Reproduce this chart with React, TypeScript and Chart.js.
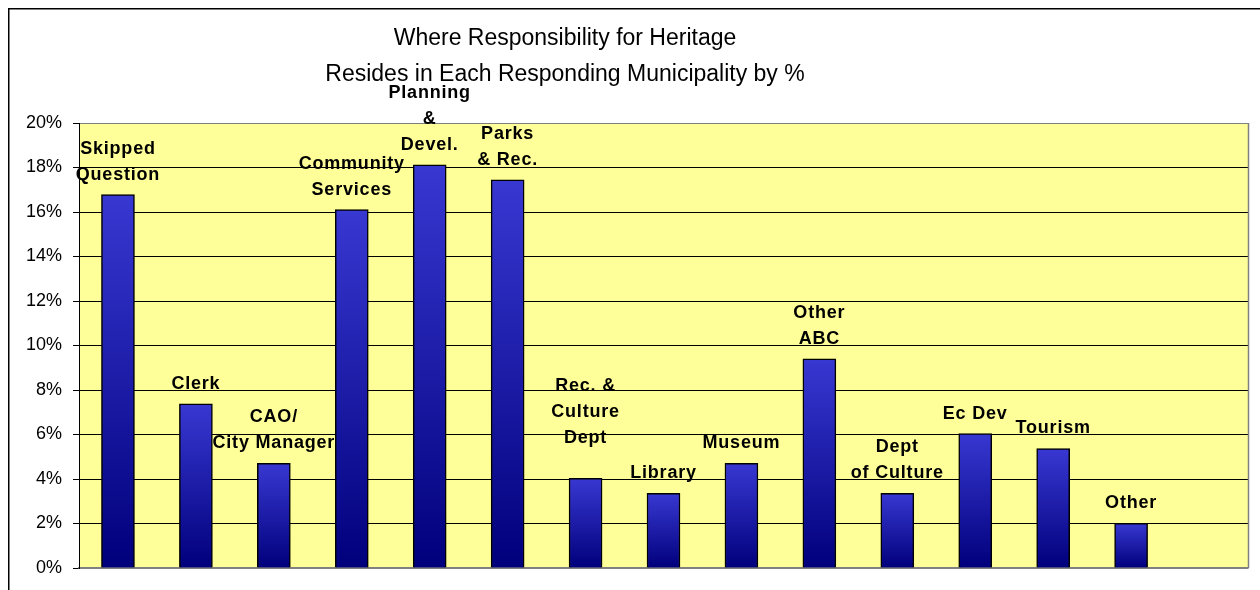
import React, { useEffect, useRef } from "react";
import { Chart, registerables } from "chart.js";

Chart.register(...registerables);

const titleLines = [
  "Where Responsibility for Heritage",
  "Resides in Each Responding Municipality by %",
];

const categories: string[][] = [
  ["Skipped", "Question"],
  ["Clerk"],
  ["CAO/", "City Manager"],
  ["Community", "Services"],
  ["Planning", "&", "Devel."],
  ["Parks", "& Rec."],
  ["Rec. &", "Culture", "Dept", ""],
  ["Library"],
  ["Museum"],
  ["Other", "ABC"],
  ["Dept", "of Culture"],
  ["Ec Dev"],
  ["Tourism"],
  ["Other"],
  [""],
];

const values: (number | null)[] = [
  16.78, 7.38, 4.7, 16.11, 18.12, 17.45, 4.03, 3.36, 4.7, 9.4, 3.36, 6.04, 5.37, 2.01, null,
];

const yTicks = [0, 2, 4, 6, 8, 10, 12, 14, 16, 18, 20];

const FONT = '"Liberation Sans", Arial, sans-serif';

const decorPlugin = {
  id: "decor",
  beforeDraw(chart: any) {
    const { ctx, chartArea: a, width, height } = chart;
    ctx.save();
    ctx.fillStyle = "#ffffff";
    ctx.fillRect(0, 0, width, height);
    ctx.fillStyle = "#FFFF99";
    ctx.fillRect(a.left, a.top, a.right - a.left, a.bottom - a.top);
    ctx.restore();
  },
  afterDraw(chart: any) {
    const { ctx, chartArea: a, width, height } = chart;
    ctx.save();
    // plot right border
    ctx.strokeStyle = "#808080";
    ctx.lineWidth = 1.5;
    ctx.beginPath();
    ctx.moveTo(Math.round(a.right) + 0.5, a.top);
    ctx.lineTo(Math.round(a.right) + 0.5, a.bottom);
    ctx.stroke();
    // outer chart border
    ctx.strokeStyle = "#000000";
    ctx.lineWidth = 1.5;
    ctx.beginPath();
    ctx.moveTo(8.75, height);
    ctx.lineTo(8.75, 8.75);
    ctx.lineTo(width, 8.75);
    ctx.stroke();
    // title
    ctx.fillStyle = "#000000";
    ctx.font = "23px " + FONT;
    ctx.textAlign = "center";
    ctx.textBaseline = "alphabetic";
    ctx.fillText(titleLines[0], 565, 45);
    ctx.fillText(titleLines[1], 565, 80.5);
    // bar labels
    const meta = chart.getDatasetMeta(0);
    ctx.font = "bold 18px " + FONT;
    try {
      (ctx as any).letterSpacing = "0.8px";
    } catch (e) {}
    ctx.textBaseline = "middle";
    meta.data.forEach((bar: any, i: number) => {
      const v = values[i];
      if (v == null) return;
      const lines = categories[i];
      let y = bar.y - 20;
      for (let j = lines.length - 1; j >= 0; j--) {
        const line = lines[j];
        if (line === "") {
          y -= 20;
          continue;
        }
        ctx.fillText(line, bar.x, y);
        y -= 26;
      }
    });
    ctx.restore();
  },
};

export default function App() {
  const ref = useRef<HTMLCanvasElement | null>(null);

  useEffect(() => {
    if (!ref.current) return;
    const chart = new Chart(ref.current, {
      type: "bar",
      data: {
        labels: categories,
        datasets: [
          {
            data: values,
            barThickness: 33,
            borderColor: "#000000",
            borderWidth: 1.5,
            backgroundColor: (c: any) => {
              const ch = c.chart;
              const area = ch.chartArea;
              const v = c.raw;
              if (!area || v == null || !ch.scales.y) return "#2020a0";
              const yTop = ch.scales.y.getPixelForValue(v);
              const g = ch.ctx.createLinearGradient(0, yTop, 0, area.bottom);
              g.addColorStop(0, "#3838D2");
              g.addColorStop(1, "#00007C");
              return g;
            },
          },
        ],
      },
      options: {
        animation: false,
        responsive: false,
        devicePixelRatio: 1,
        layout: { padding: { left: 0, top: 123, right: 12, bottom: 22 } },
        plugins: {
          legend: { display: false },
          title: { display: false },
          tooltip: { enabled: false },
        },
        scales: {
          x: {
            offset: true,
            grid: { display: false, drawTicks: false },
            ticks: { display: false },
            border: { display: true, color: "#808080", width: 1.5 },
            afterFit: (s: any) => {
              s.height = 0;
            },
          },
          y: {
            min: 0,
            max: 20,
            afterBuildTicks: (s: any) => {
              s.ticks = yTicks.map((v) => ({ value: v }));
            },
            ticks: {
              padding: 11,
              color: "#000000",
              font: { family: FONT, size: 18 },
              callback: (v: any) => v + "%",
            },
            grid: {
              color: (c: any) =>
                c.tick && (c.tick.value === 20 || c.tick.value === 0) ? "#808080" : "#000000",
              tickColor: "#000000",
              tickLength: 6,
              lineWidth: 1,
            },
            border: { display: true, color: "#000000", width: 1 },
            afterFit: (s: any) => {
              s.width = 79;
            },
          },
        },
      },
      plugins: [decorPlugin],
    });
    return () => chart.destroy();
  }, []);

  return (
    <div style={{ position: "absolute", left: 0, top: 0, width: 1260, height: 590 }}>
      <canvas ref={ref} width={1260} height={590} style={{ display: "block" }} />
    </div>
  );
}
